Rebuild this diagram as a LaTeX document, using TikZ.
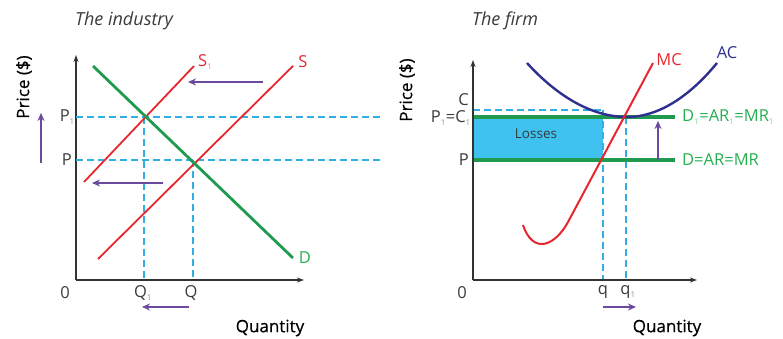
\documentclass[tikz,border=0pt]{standalone}
\usepackage{fontspec}
\setmainfont{Open Sans}
\newfontfamily\medfont[FakeBold=0.5]{Open Sans}
\usetikzlibrary{arrows.meta}
\definecolor{cred}{HTML}{E8262E}
\definecolor{cgreen}{HTML}{1F9A4E}
\definecolor{ctgreen}{HTML}{25B04F}
\definecolor{cpurple}{HTML}{6B4A9E}
\definecolor{ccyan}{HTML}{33AEE4}
\definecolor{cfill}{HTML}{3FC2F0}
\definecolor{cnavy}{HTML}{2E2F8E}
\definecolor{caxis}{HTML}{333333}
\definecolor{clabel}{HTML}{3A3A3A}
\tikzset{
  axis/.style={draw=caxis, line width=1.5pt, -{Stealth[length=7pt,width=5pt]}},
  guide/.style={draw=ccyan, line width=1.5pt, dash pattern=on 7pt off 4pt},
  supply/.style={draw=cred, line width=1.8pt},
  demand/.style={draw=cgreen, line width=2.8pt},
  moveArrow/.style={draw=cpurple, line width=2pt, -{Stealth[length=8pt,width=7pt]}},
  lbl/.style={text=clabel, font=\fontsize{16.5}{16.5}\selectfont, inner sep=0pt},
  big/.style={text=black, font=\fontsize{17}{17}\medfont, inner sep=0pt},
  ttl/.style={text=clabel, font=\fontsize{18}{18}\selectfont\itshape, inner sep=0pt},
}
\newcommand{\sbs}[1]{\textsubscript{\fontsize{8}{8}\selectfont\color{.!55}#1}}
\begin{document}
\begin{tikzpicture}[x=1pt,y=-1pt]
\useasboundingbox (0,0) rectangle (783,339);
% ---------------- The industry ----------------
\node[ttl] (t1) at (124,21) {The industry};
\node[big, rotate=90] (py1) at (24,87) {Price (\$)};
\coordinate (o1) at (76,280);
\draw[axis] (o1) -- (76,55);
\draw[axis] (o1) -- (304,280);
% dashed guides
\draw[guide] (76,117) -- (382,117);
\draw[guide] (76,160) -- (382,160);
\draw[guide] (144,117) -- (144,280);
\draw[guide] (193,160) -- (193,280);
% curves
\draw[supply] (84,182) -- (194,66);
\draw[supply] (98,259) -- (293,66);
\draw[demand] (93,66) -- (293,258);
% labels
\node[lbl, text=cred, anchor=west] (s1) at (198,62) {S\sbs{1}};
\node[lbl, text=cred] (s) at (303,62) {S};
\node[lbl, text=ctgreen] (d) at (305,258) {D};
\node[lbl, anchor=east] (p1) at (75,117) {P\sbs{1}};
\node[lbl, anchor=east] (p) at (72,160) {P};
\node[lbl] (z1) at (65,293) {0};
\node[lbl] (q1) at (143,293) {Q\sbs{1}};
\node[lbl] (q) at (191,293) {Q};
\node[big] (qa1) at (270,328) {Quantity};
% shift arrows
\draw[moveArrow] (41,163) -- (41,113);
\draw[moveArrow] (263,82) -- (188,82);
\draw[moveArrow] (163,183) -- (92,183);
\draw[moveArrow] (189,307) -- (142,307);
% ---------------- The firm ----------------
\node[ttl] (t2) at (505,21) {The firm};
\node[big, rotate=90] (py2) at (407,90) {Price (\$)};
\coordinate (o2) at (473,280);
\fill[cfill] (473,119) rectangle (603,159);
\node[font=\fontsize{13.5}{13.5}\selectfont, text=clabel, inner sep=0pt] (loss) at (536,134) {Losses};
\draw[guide] (473,110) -- (603,110);
\draw[guide] (603,110) -- (603,280);
\draw[guide] (626,117) -- (626,280);
\draw[demand, line width=3.2pt] (473,117) -- (675,117);
\draw[demand, line width=3.2pt] (473,160) -- (675,160);
\draw[axis] (o2) -- (473,60);
\draw[axis] (o2) -- (697,280);
% AC and MC
\draw[draw=cnavy, line width=2.4pt] (527,63) parabola bend (627,117) (717,63);
\draw[draw=cred, line width=2pt] (523,225) .. controls (533,255) and (555,246) .. (568,222) -- (653,63);
% labels
\node[lbl, text=cred] (mc) at (669,60) {MC};
\node[lbl, text=cnavy] (ac) at (727,53) {AC};
\node[lbl, anchor=east] (c) at (469,100) {C};
\node[lbl, anchor=east] (pc) at (471,118) {P\sbs{1}=C\sbs{1}};
\node[lbl, anchor=east] (p2) at (469,160) {P};
\node[lbl, anchor=west, text=ctgreen] (d1) at (682,117) {D\sbs{1}=AR\sbs{1}=MR\sbs{1}};
\node[lbl, anchor=west, text=ctgreen] (d2) at (682,160) {D=AR=MR};
\node[lbl] (z2) at (462,293) {0};
\node[lbl] (qq) at (603,292) {q};
\node[lbl] (qq1) at (628,292) {q\sbs{1}};
\node[big] (qa2) at (667,328) {Quantity};
\draw[moveArrow] (658,160) -- (658,121);
\draw[moveArrow] (603,307) -- (636,307);
\end{tikzpicture}
\end{document}
